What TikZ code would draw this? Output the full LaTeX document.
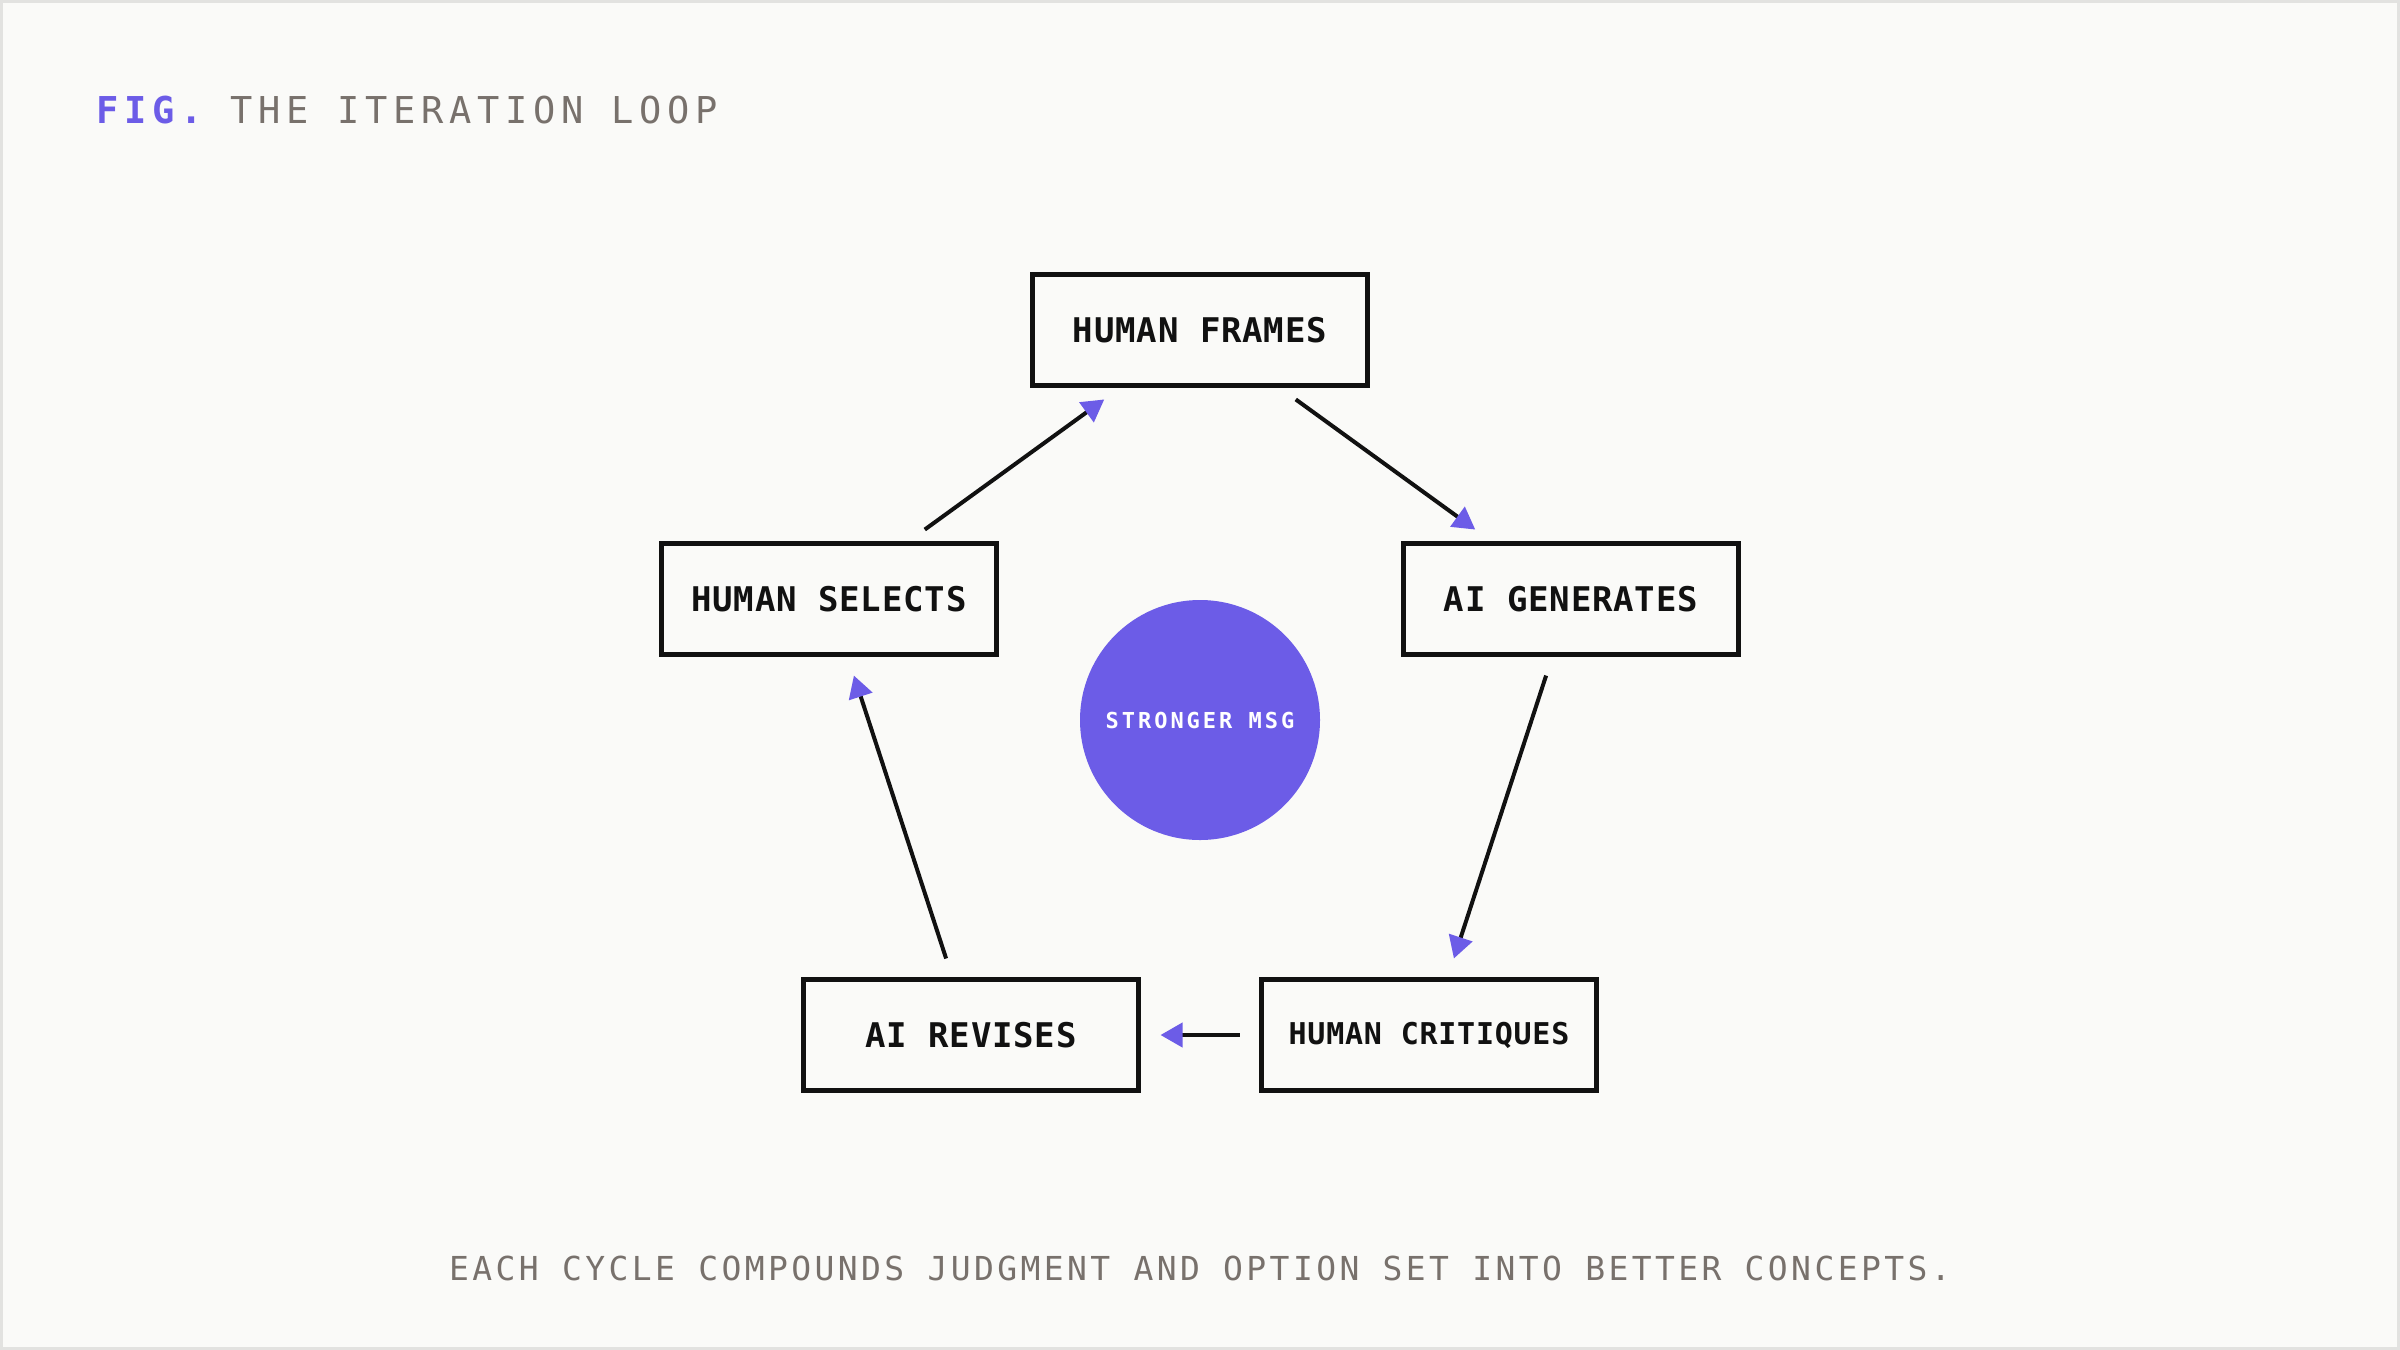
\documentclass[tikz,border=0pt]{standalone}
\usepackage{fontspec}
\usepackage{xcolor}
\usepackage{tikz}
\usetikzlibrary{arrows.meta}

\definecolor{purp}{HTML}{6C5CE7}
\definecolor{ink}{HTML}{111111}
\definecolor{stone}{HTML}{78716C}
\definecolor{paper}{HTML}{FAFAF8}
\definecolor{rim}{HTML}{E2E2E0}

\newfontfamily\titlefont[LetterSpace=15.5]{DejaVu Sans Mono}
\newfontfamily\boxfont[LetterSpace=2.5]{DejaVu Sans Mono}
\newfontfamily\notefont[LetterSpace=10.3]{DejaVu Sans Mono}
\newfontfamily\hubfont[LetterSpace=13.5]{DejaVu Sans Mono}

\begin{document}
\begin{tikzpicture}[
  x=0.5pt, y=-0.5pt,
  stage/.style={draw=ink, line width=2.5pt, fill=paper, inner sep=0pt,
                minimum width=167.5pt, minimum height=55.5pt, text=ink,
                font={\boxfont\bfseries\fontsize{17}{20}\selectfont}},
  hub/.style={circle, fill=purp, minimum size=120pt, inner sep=0pt, text=white,
              font={\hubfont\bfseries\fontsize{11}{13}\selectfont}},
  arr/.style={-{Triangle[length=11pt, width=12pt, color=purp]}, line width=2pt,
              draw=ink, shorten >=9.75pt, shorten <=9.75pt},
]
  \useasboundingbox (0,0) rectangle (2400,1350);
  \fill[paper, draw=rim, line width=1.5pt] (1.5,1.5) rectangle (2398.5,1348.5);

  \node[anchor=base west, inner sep=0pt, font={\titlefont\fontsize{18.5}{22}\selectfont}] (title) at (96,123)
    {\textcolor{purp}{\bfseries FIG.}\ \textcolor{stone}{THE ITERATION LOOP}};

  \node[stage] (frames) at (1200,330) {HUMAN FRAMES};
  \node[stage] (gen) at (1571,599) {AI GENERATES};
  \node[stage, font={\boxfont\bfseries\fontsize{15}{18}\selectfont}] (crit) at (1429,1035) {HUMAN CRITIQUES};
  \node[stage] (rev) at (971,1035) {AI REVISES};
  \node[stage] (sel) at (829,599) {HUMAN SELECTS};

  \node[hub] (msg) at (1200,720) {STRONGER MSG};

  \draw[arr] (frames) -- (gen);
  \draw[arr] (gen) -- (crit);
  \draw[arr] (crit) -- (rev);
  \draw[arr] (rev) -- (sel);
  \draw[arr] (sel) -- (frames);

  \node[anchor=base, inner sep=0pt, text=stone, font={\notefont\fontsize{16.5}{20}\selectfont}] (note) at (1200,1280)
    {EACH CYCLE COMPOUNDS JUDGMENT AND OPTION SET INTO BETTER CONCEPTS.};
\end{tikzpicture}
\end{document}
